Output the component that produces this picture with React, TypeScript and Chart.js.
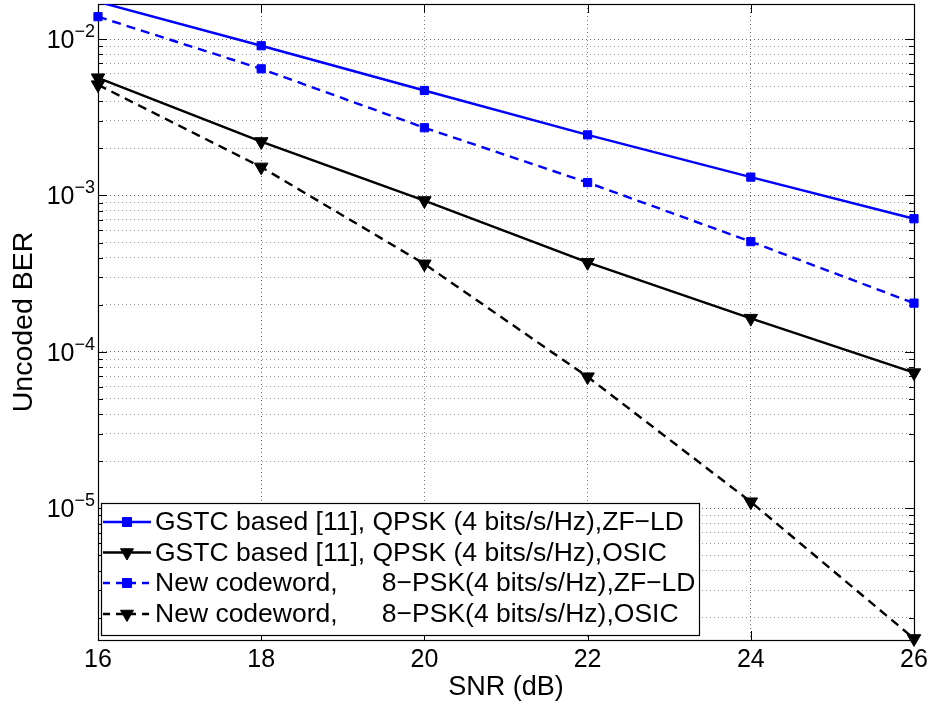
import { useEffect, useRef } from 'react';
import { Chart, registerables } from 'chart.js';

Chart.register(...registerables);

// ---- data ----
const snrDb = [16, 18, 20, 22, 24, 26];
const gstcZfLd = [0.0173, 0.00906, 0.00469, 0.00244, 0.00131, 0.00071];
const gstcOsic = [0.00565, 0.00221, 0.000927, 0.000373, 0.000164, 0.0000736];
const newZfLd = [0.0139, 0.00645, 0.00271, 0.00121, 0.000507, 0.000205];
const newOsic = [0.0051, 0.00152, 0.000365, 0.0000693, 0.000011, 0.00000147];

const seriesLabels = [
  'GSTC based [11], QPSK (4 bits/s/Hz),ZF\u2212LD',
  'GSTC based [11], QPSK (4 bits/s/Hz),OSIC',
  'New codeword,      8\u2212PSK(4 bits/s/Hz),ZF\u2212LD',
  'New codeword,      8\u2212PSK(4 bits/s/Hz),OSIC',
];

const xTickValues = [16, 18, 20, 22, 24, 26];
const yLabelExponents = [-2, -3, -4, -5];
const yMinorMultipliers = [1, 2, 3, 4, 5, 6, 7, 8, 9];
const xMin = 16;
const xMax = 26;
const yMin = 1.44e-6;
const yMax = 0.01675;

const xTitle = 'SNR (dB)';
const yTitle = 'Uncoded BER';

const FONT = '"Liberation Sans", Arial, Helvetica, sans-serif';
const BLUE = '#0000ff';
const BLACK = '#000000';

const yGridValues: number[] = [];
for (let e = -7; e <= -1; e++) {
  for (const m of yMinorMultipliers) {
    const v = Number((m * Math.pow(10, e)).toPrecision(3));
    if (v >= yMin && v <= yMax) yGridValues.push(v);
  }
}

const isDecade = (v: number) => {
  const l = Math.log10(v);
  return Math.abs(l - Math.round(l)) < 1e-6;
};

type Style = { color: string; dash: number[]; marker: 'rect' | 'tri' };
const styles: Style[] = [
  { color: BLUE, dash: [], marker: 'rect' },
  { color: BLACK, dash: [], marker: 'tri' },
  { color: BLUE, dash: [9, 6], marker: 'rect' },
  { color: BLACK, dash: [9, 6], marker: 'tri' },
];

function drawMarker(ctx: CanvasRenderingContext2D, kind: 'rect' | 'tri', x: number, y: number, color: string) {
  ctx.save();
  ctx.setLineDash([]);
  ctx.fillStyle = color;
  ctx.strokeStyle = color;
  ctx.lineWidth = 1;
  ctx.beginPath();
  if (kind === 'rect') {
    ctx.rect(x - 4.5, y - 4.5, 9, 9);
  } else {
    const r = 7.5;
    ctx.moveTo(x - r * 0.866, y - r * 0.5);
    ctx.lineTo(x + r * 0.866, y - r * 0.5);
    ctx.lineTo(x, y + r);
    ctx.closePath();
  }
  ctx.fill();
  ctx.stroke();
  ctx.restore();
}

const matlabPlugin = {
  id: 'matlabLook',
  beforeDatasetsDraw(chart: any) {
    const { ctx, chartArea: a, scales } = chart;
    ctx.save();
    ctx.strokeStyle = '#000';
    ctx.lineWidth = 1;
    ctx.setLineDash([]);
    // inward tick marks
    ctx.beginPath();
    for (const v of xTickValues) {
      const px = Math.round(scales.x.getPixelForValue(v)) + 0.5;
      ctx.moveTo(px, a.bottom);
      ctx.lineTo(px, a.bottom - 9);
      ctx.moveTo(px, a.top);
      ctx.lineTo(px, a.top + 9);
    }
    for (const v of yGridValues) {
      const py = Math.round(scales.y.getPixelForValue(v)) + 0.5;
      const len = isDecade(v) ? 9 : 5;
      ctx.moveTo(a.left, py);
      ctx.lineTo(a.left + len, py);
      ctx.moveTo(a.right, py);
      ctx.lineTo(a.right - len, py);
    }
    ctx.stroke();
    // frame
    ctx.lineWidth = 1.2;
    ctx.strokeRect(Math.round(a.left) + 0.5, Math.round(a.top) + 0.5, Math.round(a.right - a.left), Math.round(a.bottom - a.top));
    ctx.restore();
  },
  afterDatasetsDraw(chart: any) {
    const { ctx } = chart;
    // legend box
    const bx = 101, by = 503, bw = 598, bh = 132;
    ctx.save();
    ctx.fillStyle = '#ffffff';
    ctx.fillRect(bx, by, bw, bh);
    ctx.strokeStyle = '#000';
    ctx.lineWidth = 1.2;
    ctx.setLineDash([]);
    ctx.strokeRect(bx + 0.5, by + 0.5, bw, bh);
    const rowY = [522, 552.5, 583, 614];
    ctx.font = `26.5px ${FONT}`;
    ctx.textBaseline = 'middle';
    ctx.textAlign = 'left';
    chart.data.datasets.forEach((ds: any, i: number) => {
      const st = styles[i];
      const y = rowY[i];
      ctx.save();
      ctx.strokeStyle = st.color;
      ctx.lineWidth = 2.4;
      ctx.setLineDash(st.dash.length ? [7, 6] : []);
      ctx.lineDashOffset = 0;
      ctx.beginPath();
      ctx.moveTo(103, y);
      ctx.lineTo(151, y);
      ctx.stroke();
      ctx.restore();
      drawMarker(ctx, st.marker, 127, y, st.color);
      ctx.fillStyle = '#000';
      ctx.fillText(ds.label, 155, y + 1);
    });
    ctx.restore();
  },
  afterDraw(chart: any) {
    const { ctx, chartArea: a, scales } = chart;
    ctx.save();
    ctx.fillStyle = '#000';
    // x tick labels
    ctx.font = `25px ${FONT}`;
    ctx.textAlign = 'center';
    ctx.textBaseline = 'middle';
    for (const v of xTickValues) {
      ctx.fillText(String(v), scales.x.getPixelForValue(v), a.bottom + 20);
    }
    // y tick labels 10^e
    for (const e of yLabelExponents) {
      const py = scales.y.getPixelForValue(Math.pow(10, e));
      const exp = '\u2212' + String(-e);
      ctx.font = `18px ${FONT}`;
      const ew = ctx.measureText(exp).width;
      ctx.font = `25px ${FONT}`;
      const bw = ctx.measureText('10').width;
      const right = a.left - 3;
      ctx.textAlign = 'left';
      ctx.textBaseline = 'middle';
      ctx.fillText('10', right - ew - bw, py + 2);
      ctx.font = `18px ${FONT}`;
      ctx.fillText(exp, right - ew, py - 7);
    }
    // axis titles
    ctx.font = `27px ${FONT}`;
    ctx.textAlign = 'center';
    ctx.textBaseline = 'middle';
    ctx.fillText(xTitle, (a.left + a.right) / 2, a.bottom + 48);
    ctx.font = `28.5px ${FONT}`;
    ctx.save();
    ctx.translate(24, (a.top + a.bottom) / 2);
    ctx.rotate(-Math.PI / 2);
    ctx.fillText(yTitle, 0, 0);
    ctx.restore();
    ctx.restore();
  },
};

export default function App() {
  const canvasRef = useRef<HTMLCanvasElement | null>(null);

  useEffect(() => {
    const canvas = canvasRef.current;
    if (!canvas) return;
    const seriesValues = [gstcZfLd, gstcOsic, newZfLd, newOsic];
    const datasets = seriesValues.map((vals, i) => {
      const st = styles[i];
      return {
        label: seriesLabels[i],
        data: snrDb.map((x, k) => ({ x, y: vals[k] })),
        borderColor: st.color,
        backgroundColor: st.color,
        borderWidth: 2.4,
        borderDash: st.dash,
        pointStyle: st.marker === 'rect' ? 'rect' : 'triangle',
        pointRotation: st.marker === 'rect' ? 0 : 180,
        pointRadius: (c: any) => (c.raw && c.raw.y > yMax ? 0 : st.marker === 'rect' ? 5.8 : 7.8),
        pointBorderWidth: 1,
        pointBackgroundColor: st.color,
        pointBorderColor: st.color,
        tension: 0,
        fill: false,
        clip: i === 0 ? { left: 12, right: 12, top: 0, bottom: 12 } : false,
      };
    });

    const chart = new Chart(canvas, {
      type: 'line',
      data: { datasets } as any,
      options: {
        animation: false,
        responsive: false,
        devicePixelRatio: 1,
        layout: { autoPadding: false, padding: { left: 98, top: 4, right: 17, bottom: 66 } },
        plugins: { legend: { display: false }, tooltip: { enabled: false } },
        scales: {
          x: {
            type: 'linear',
            min: xMin,
            max: xMax,
            afterBuildTicks: (s: any) => {
              s.ticks = xTickValues.map((v) => ({ value: v }));
            },
            ticks: { display: false },
            grid: {
              drawTicks: false,
              lineWidth: 1,
              color: (c: any) => (c.tick && (c.tick.value === xMin || c.tick.value === xMax) ? 'rgba(0,0,0,0)' : 'rgba(0,0,0,0.55)'),
            },
            border: { display: false, dash: [1, 3] },
          },
          y: {
            type: 'logarithmic',
            min: yMin,
            max: yMax,
            afterBuildTicks: (s: any) => {
              s.ticks = yGridValues.map((v) => ({ value: v, major: isDecade(v) }));
            },
            ticks: { display: false },
            grid: {
              drawTicks: false,
              lineWidth: 1,
              color: (c: any) => (c.tick && isDecade(c.tick.value) ? 'rgba(0,0,0,0.6)' : 'rgba(0,0,0,0.4)'),
            },
            border: { display: false, dash: [1, 3] },
          },
        },
      } as any,
      plugins: [matlabPlugin],
    });
    return () => chart.destroy();
  }, []);

  return (
    <div style={{ position: 'absolute', left: 0, top: 0, width: 931, height: 706, background: '#fff' }}>
      <canvas ref={canvasRef} width={931} height={706} style={{ width: 931, height: 706, display: 'block' }} />
    </div>
  );
}
